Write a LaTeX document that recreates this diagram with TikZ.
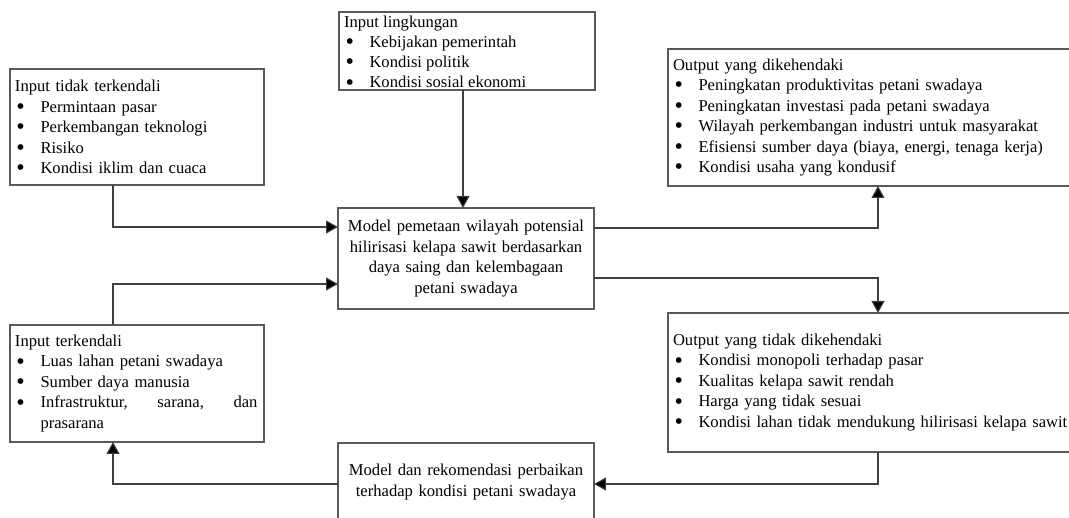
\documentclass[tikz,border=0pt]{standalone}
\usepackage{fontspec}
\setmainfont{Liberation Serif}
\usetikzlibrary{arrows.meta}
\definecolor{boxgray}{HTML}{5A5A5A}
\definecolor{linegray}{HTML}{404040}
\newcommand{\bmark}{\makebox[25.5pt][l]{\hspace{1.5pt}\smash{\raisebox{-2.2pt}{\scalebox{1.45}{\textbullet}}}}}
\newcommand{\bli}[1]{\par\noindent\bmark#1}
\begin{document}
\begin{tikzpicture}[x=1pt,y=-1pt,
  box/.style={draw=boxgray, line width=1.1pt, fill=white, inner xsep=5pt, inner ysep=0pt, outer sep=0pt,
    font=\fontsize{16.6}{20.5}\selectfont},
  listbox/.style={box, align=left},
  midbox/.style={box, align=center},
  conn/.style={draw=linegray, line width=1.1pt, -{Triangle[length=12pt,width=13pt,fill=black]}}]
\useasboundingbox (0,0) rectangle (1069,518);
\clip (0,0) rectangle (1069,518);

\node[listbox, text width=244pt, minimum height=116pt] (A) at (137,127)
  {Input tidak terkendali
   \bli{Permintaan pasar}
   \bli{Perkembangan teknologi}
   \bli{Risiko}
   \bli{Kondisi iklim dan cuaca}};

\node[box, minimum width=256pt, minimum height=78pt] (B) at (467,51)
  {\raisebox{-1pt}[\height][\depth]{\parbox{246pt}{\raggedright\fontsize{16.6}{20.1}\selectfont
   Input lingkungan
   \bli{Kebijakan pemerintah}
   \bli{Kondisi politik}
   \bli{Kondisi sosial ekonomi}}}};

\node[listbox, text width=410pt, minimum height=137pt] (C) at (878,117.5)
  {Output yang dikehendaki
   \bli{Peningkatan produktivitas petani swadaya}
   \bli{Peningkatan investasi pada petani swadaya}
   \bli{Wilayah perkembangan industri untuk masyarakat}
   \bli{Efisiensi sumber daya (biaya, energi, tenaga kerja)}
   \bli{Kondisi usaha yang kondusif}};

\node[midbox, text width=246pt, minimum height=101pt] (D) at (466,258.5)
  {Model pemetaan wilayah potensial\\
   hilirisasi kelapa sawit berdasarkan\\
   daya saing dan kelembagaan\\
   petani swadaya};

\node[listbox, text width=244pt, minimum height=117pt] (E) at (137,383.5)
  {Input terkendali
   \bli{Luas lahan petani swadaya}
   \bli{Sumber daya manusia}
   \bli{\hbox to 217pt{Infrastruktur,\hfill sarana,\hfill dan}}
   \par\noindent\hspace*{25.5pt}prasarana};

\node[listbox, text width=410pt, minimum height=139pt] (F) at (878,382.5)
  {Output yang tidak dikehendaki
   \bli{Kondisi monopoli terhadap pasar}
   \bli{Kualitas kelapa sawit rendah}
   \bli{Harga yang tidak sesuai}
   \bli{Kondisi lahan tidak mendukung hilirisasi kelapa sawit}};

\node[midbox, text width=246pt, minimum height=78pt] (G) at (466,482)
  {Model dan rekomendasi perbaikan\\
   terhadap kondisi petani swadaya};

\coordinate (a1) at (113,227);
\coordinate (e1) at (113,284);
\coordinate (b1) at (463,0);
\coordinate (c1) at (878,228);
\coordinate (f1) at (878,278);
\coordinate (g1) at (878,484);

\draw[conn] (A.south -| a1) |- (D.west |- a1);
\draw[conn] (B.south -| b1) -- (D.north -| b1);
\draw[conn] (D.east |- c1) -| (C.south -| c1);
\draw[conn] (D.east |- f1) -| (F.north -| f1);
\draw[conn] (F.south -| g1) |- (G.east |- g1);
\draw[conn] (G.west |- g1) -| (E.south -| a1);
\draw[conn] (E.north -| e1) |- (D.west |- e1);
\end{tikzpicture}
\end{document}
